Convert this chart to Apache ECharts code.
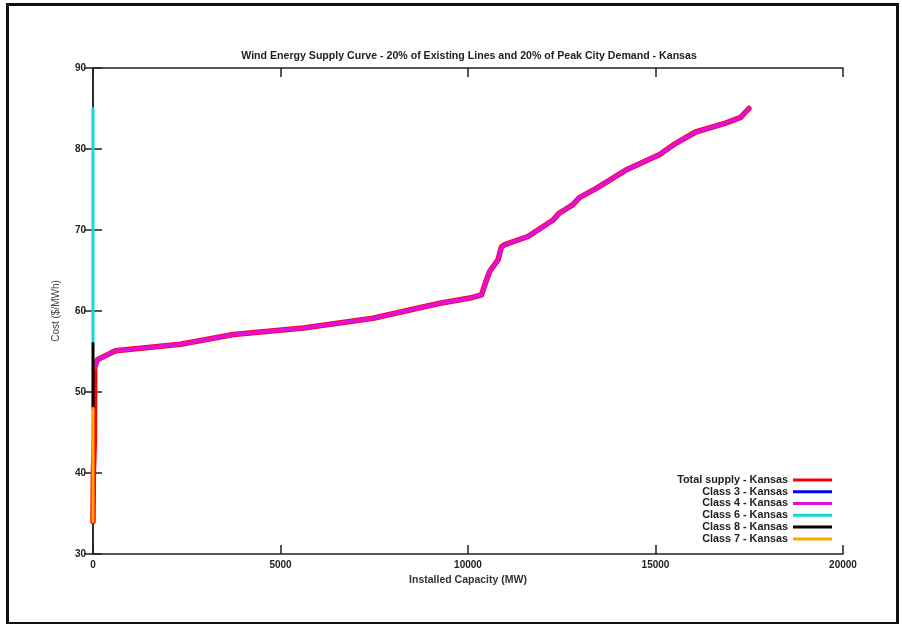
<!DOCTYPE html>
<html>
<head>
<meta charset="utf-8">
<script src="https://cdn.jsdelivr.net/npm/echarts@6/dist/echarts.min.js"></script>
<style>html,body{margin:0;padding:0;background:#fff;}#c{width:902px;height:624px;}</style>
</head>
<body>
<div id="c"></div>
<script>
const titleText = 'Wind Energy Supply Curve - 20% of Existing Lines and 20% of Peak City Demand - Kansas';
const xTicks = [0, 5000, 10000, 15000, 20000];
const yTicks = [30, 40, 50, 60, 70, 80, 90];
const seriesNames = ['Total supply - Kansas', 'Class 3 - Kansas', 'Class 4 - Kansas', 'Class 6 - Kansas', 'Class 8 - Kansas', 'Class 7 - Kansas'];

const totalX = [0, 10, 35, 40, 45, 40, 120, 600, 2330, 3750, 5610, 7470, 8800, 9250, 10050, 10360, 10490, 10580, 10800, 10890, 10980, 11600, 12260, 12440, 12790, 12970, 13410, 14210, 15100, 15540, 16070, 16870, 17270, 17490];
const totalY = [34, 40, 44, 48, 52, 53.0, 54.0, 55.1, 55.9, 57.1, 57.9, 59.1, 60.5, 60.95, 61.6, 62.0, 63.8, 64.9, 66.3, 67.9, 68.2, 69.2, 71.2, 72.1, 73.1, 74.0, 75.1, 77.4, 79.3, 80.7, 82.1, 83.2, 83.9, 85.0];

const class3X = [];
const class3Y = [];

const class4X = [40, 120, 600, 2330, 3750, 5610, 7470, 8800, 9250, 10050, 10360, 10490, 10580, 10800, 10890, 10980, 11600, 12260, 12440, 12790, 12970, 13410, 14210, 15100, 15540, 16070, 16870, 17270, 17490];
const class4Y = [53.0, 54.0, 55.1, 55.9, 57.1, 57.9, 59.1, 60.5, 60.95, 61.6, 62.0, 63.8, 64.9, 66.3, 67.9, 68.2, 69.2, 71.2, 72.1, 73.1, 74.0, 75.1, 77.4, 79.3, 80.7, 82.1, 83.2, 83.9, 85.0];

const class6X = [0, 0];
const class6Y = [56, 85];

const class8X = [0, 0];
const class8Y = [48, 56];

const class7X = [0, 0];
const class7Y = [34, 48];

function pairs(xs, ys) { return xs.map((x, i) => [x, ys[i]]); }

const colors = ['#ff0000', '#0000ff', '#e010d8', '#10d8d8', '#000000', '#ffa500'];
const widths = [5.5, 3, 4, 3, 3, 3];
const dataSets = [
  pairs(totalX, totalY), pairs(class3X, class3Y), pairs(class4X, class4Y),
  pairs(class6X, class6Y), pairs(class8X, class8Y), pairs(class7X, class7Y)
];

const font = 'Liberation Sans, Arial, Helvetica, sans-serif';
const chart = echarts.init(document.getElementById('c'));
const axisCommon = {
  type: 'value',
  axisLine: { show: true, lineStyle: { color: '#222', width: 1.5 } },
  axisTick: { show: true, inside: true, length: 9, lineStyle: { color: '#222', width: 1.5 } },
  splitLine: { show: false }
};
chart.setOption({
  animation: false,
  backgroundColor: '#fff',
  title: {
    text: titleText, left: 464, textAlign: 'center', top: 46,
    textStyle: { fontFamily: font, fontSize: 10.6, fontWeight: 'bold', color: '#222' }
  },
  grid: { left: 93, top: 68, right: 59, bottom: 70 },
  graphic: [{
    type: 'rect', shape: { x: 7.5, y: 4.5, width: 890, height: 619 },
    style: { fill: 'none', stroke: '#111', lineWidth: 3 }, silent: true
  }],
  legend: {
    orient: 'vertical', align: 'right', right: 70, top: 474, padding: 0,
    itemWidth: 39, itemHeight: 3, itemGap: 0, icon: 'rect',
    textStyle: { fontFamily: font, fontSize: 10.8, fontWeight: 'bold', color: '#222', lineHeight: 11.8 },
    data: seriesNames
  },
  xAxis: [
    Object.assign({}, axisCommon, {
      min: xTicks[0], max: xTicks[xTicks.length - 1], interval: 5000, position: 'bottom',
      name: 'Installed Capacity (MW)', nameLocation: 'middle', nameGap: 21,
      nameTextStyle: { fontFamily: font, fontSize: 10.5, fontWeight: 'bold', color: '#333' },
      axisLabel: { margin: 6, fontFamily: font, fontSize: 10, fontWeight: 'bold', color: '#222',
        formatter: v => String(v) }
    }),
    Object.assign({}, axisCommon, {
      min: xTicks[0], max: xTicks[xTicks.length - 1], interval: 5000, position: 'top',
      axisLabel: { show: false }
    })
  ],
  yAxis: [
    Object.assign({}, axisCommon, {
      min: yTicks[0], max: yTicks[yTicks.length - 1], interval: 10, position: 'left',
      name: 'Cost ($/MWh)', nameLocation: 'middle', nameGap: 32,
      nameTextStyle: { fontFamily: font, fontSize: 10, color: '#444' },
      axisLabel: { margin: 7, fontFamily: font, fontSize: 10, fontWeight: 'bold', color: '#222' }
    }),
    Object.assign({}, axisCommon, {
      min: yTicks[0], max: yTicks[yTicks.length - 1], interval: 10, position: 'right',
      axisLabel: { show: false }
    })
  ],
  series: seriesNames.map((n, i) => ({
    name: n, type: 'line', data: dataSets[i], showSymbol: false, symbol: 'none',
    clip: false, color: colors[i],
    lineStyle: { color: colors[i], width: widths[i], join: 'round', cap: 'round' },
    itemStyle: { color: colors[i] },
    emphasis: { disabled: true }
  }))
});
</script>
</body>
</html>
